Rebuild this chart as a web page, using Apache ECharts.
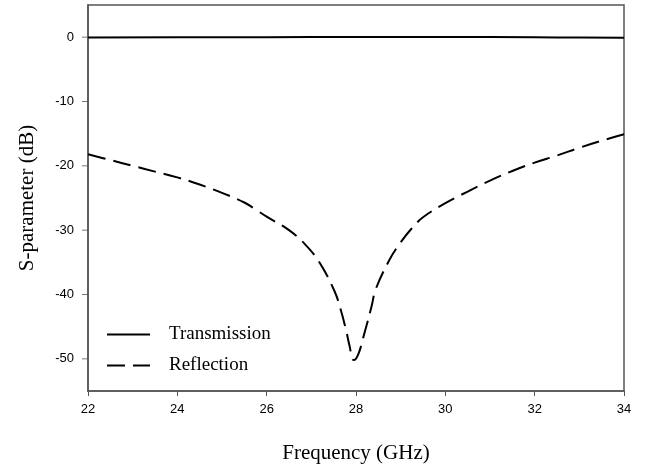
<!DOCTYPE html>
<html>
<head>
<meta charset="utf-8">
<script src="https://cdn.jsdelivr.net/npm/echarts@6/dist/echarts.min.js"></script>
<style>
    html, body { margin: 0; padding: 0; background: #fff; }
    #chart { width: 645px; height: 469px; }
</style>
</head>
<body>
<div id="chart"></div>
<script>
    // values
    const freqTicks = [22, 24, 26, 28, 30, 32, 34];
    const dbTicks = [-50, -40, -30, -20, -10, 0];

    const transFreq = [22, 24, 26, 28, 30, 32, 33, 34];
    const transDb = [-0.05, -0.03, 0, 0.03, 0.03, -0.02, -0.05, -0.1];

    const reflFreq = [22, 22.5, 23, 23.5, 24, 24.5, 25, 25.5, 25.8, 26, 26.5, 26.86, 27.18, 27.52, 27.66, 27.78,
        27.85, 27.95, 28.05, 28.17, 28.35, 28.44, 28.75, 29, 29.25, 29.5, 30, 30.5, 31, 31.5, 32, 32.5, 33, 33.5, 34];
    const reflDb = [-18.2, -19.1, -20.0, -20.9, -21.8, -22.9, -24.2, -25.7, -27.0, -27.9, -30.0, -32.2, -35.0, -39.5, -42.4, -45.6,
        -47.8, -50.2, -49.3, -46.5, -41.8, -39.2, -34.6, -31.9, -29.7, -28.0, -25.8, -24.0, -22.3, -20.8, -19.5, -18.4, -17.2, -16.1, -15.1];

    function pairs(xs, ys) {
        return xs.map((x, i) => [x, ys[i]]);
    }

    let chart = echarts.init(document.getElementById("chart"), null, {renderer: "canvas"});
    let axisColor = "#555";
    let tickFont = {fontFamily: "Liberation Sans", fontSize: 13, color: "#000"};

    let option = {
        animation: false,
        grid: {
            left: 88, right: 21, top: 5, bottom: 77,
            show: true, borderColor: axisColor, borderWidth: 1.5
        },
        legend: {
            orient: "vertical",
            left: 101, top: 320,
            itemWidth: 43, itemHeight: 14,
            itemGap: 12,
            itemStyle: {opacity: 0},
            textStyle: {fontFamily: "Liberation Serif", fontSize: 19, color: "#000", padding: [0, 0, 0, 14]},
            data: ["Transmission", "Reflection"]
        },
        xAxis: {
            type: "value",
            min: 22, max: 34, interval: 2,
            name: "Frequency (GHz)",
            nameLocation: "middle",
            nameGap: 52,
            nameTextStyle: {fontFamily: "Liberation Serif", fontSize: 21, color: "#000"},
            axisLine: {onZero: false, lineStyle: {color: axisColor, width: 1.5}},
            axisTick: {show: true, inside: false, length: 5, lineStyle: {color: axisColor, width: 1}},
            axisLabel: Object.assign({margin: 12}, tickFont),
            splitLine: {show: false}
        },
        yAxis: {
            type: "value",
            min: -55, max: 5,
            name: "S-parameter (dB)",
            nameLocation: "middle",
            nameGap: 50,
            nameTextStyle: {fontFamily: "Liberation Serif", fontSize: 21, color: "#000"},
            axisLine: {show: true, onZero: false, lineStyle: {color: axisColor, width: 1.5}},
            axisTick: {show: false},
            axisLabel: Object.assign({margin: 14, customValues: dbTicks}, tickFont),
            splitLine: {show: false}
        },
        series: [
            {
                // y-axis tick marks at the labelled values
                name: "yticks",
                type: "scatter",
                silent: true,
                clip: false,
                symbol: "rect",
                symbolSize: [6, 1],
                symbolOffset: [-3, 0],
                itemStyle: {color: axisColor},
                data: dbTicks.map(v => [freqTicks[0], v])
            },
            {
                name: "Transmission",
                type: "line",
                symbol: "none",
                smooth: true,
                data: pairs(transFreq, transDb),
                itemStyle: {color: "#000"},
                lineStyle: {color: "#000", width: 2}
            },
            {
                name: "Reflection",
                type: "line",
                symbol: "none",
                smooth: 0.4,
                data: pairs(reflFreq, reflDb),
                itemStyle: {color: "#000"},
                lineStyle: {color: "#000", width: 2, type: [18, 8]}
            }
        ]
    };

    chart.setOption(option);
</script>
</body>
</html>
